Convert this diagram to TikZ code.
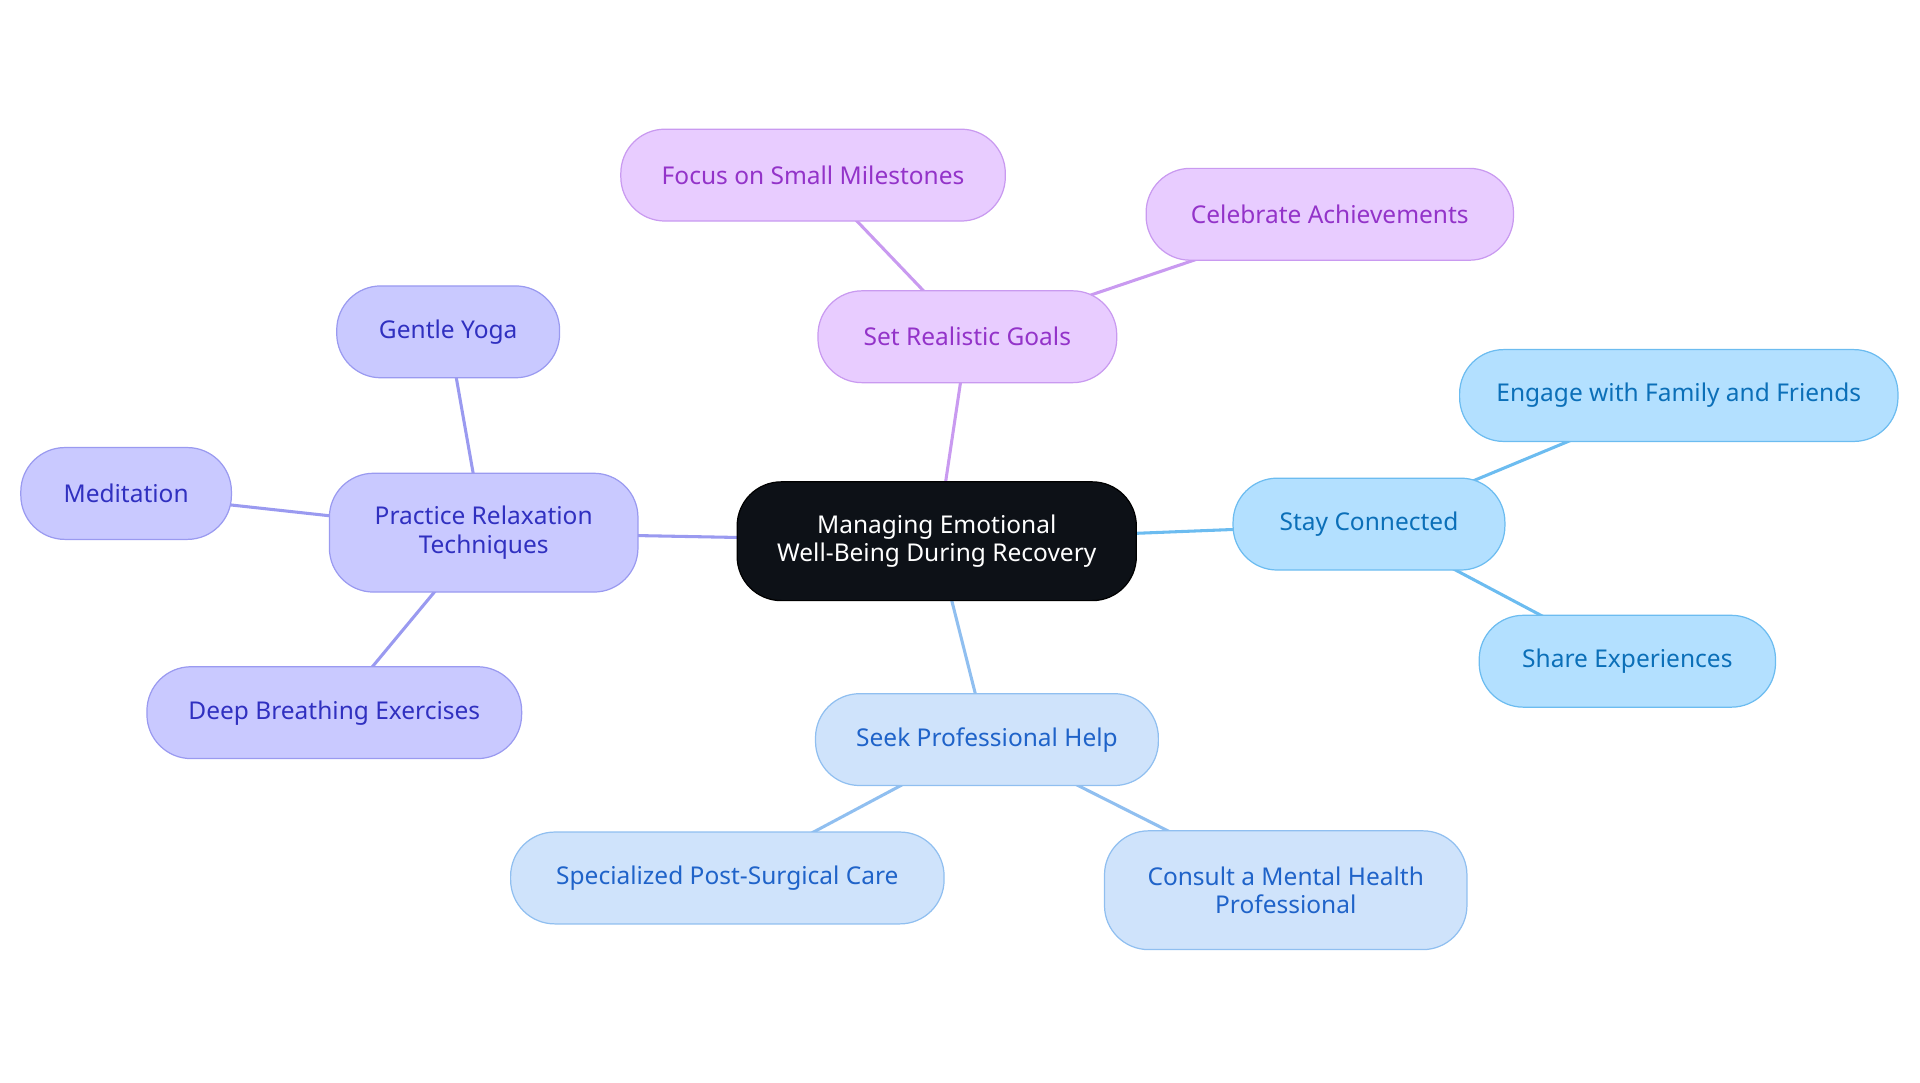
\documentclass[tikz,border=0pt]{standalone}
\usepackage{fontspec}
\setmainfont{Noto Sans}
\usetikzlibrary{backgrounds}
\definecolor{pF}{HTML}{E8CCFF}\definecolor{pD}{HTML}{C99AF0}\definecolor{pT}{HTML}{9333C9}
\definecolor{sF}{HTML}{B3E0FF}\definecolor{sD}{HTML}{6CBCF0}\definecolor{sT}{HTML}{0B6FB8}
\definecolor{bF}{HTML}{CFE3FB}\definecolor{bD}{HTML}{90BFF0}\definecolor{bT}{HTML}{1F63C9}
\definecolor{iF}{HTML}{C9C9FF}\definecolor{iD}{HTML}{9A9AF0}\definecolor{iT}{HTML}{3030C0}
\definecolor{rF}{HTML}{0D1117}
\begin{document}
\begin{tikzpicture}[x=1pt,y=-1pt,
 base/.style={rounded corners=36pt,draw,line width=1pt,align=center,inner sep=0pt,font=\fontsize{20}{23}\selectfont},
 root/.style={base,fill=rF,draw=black,text=white},
 pur/.style={base,fill=pF,draw=pD,text=pT},
 sky/.style={base,fill=sF,draw=sD,text=sT},
 blu/.style={base,fill=bF,draw=bD,text=bT},
 ind/.style={base,fill=iF,draw=iD,text=iT},
 e/.style={line width=2.5pt}]
\useasboundingbox (0,0) rectangle (1568,884);
\def\nd#1#2#3#4#5#6#7{\node[#2,minimum width=#5pt,minimum height=#6pt] (#1) at (#3,#4) {#7};}
\nd{c}{root}{765}{442}{326}{97}{Managing Emotional\\Well-Being During Recovery}
\nd{g}{pur}{790}{275}{244}{75}{Set Realistic Goals}
\nd{g1}{pur}{664}{143}{314}{75}{Focus on Small Milestones}
\nd{g2}{pur}{1086}{175}{300}{75}{Celebrate Achievements}
\nd{s}{sky}{1118}{428}{222}{75}{Stay Connected}
\nd{s1}{sky}{1371}{323}{358}{75}{Engage with Family and Friends}
\nd{s2}{sky}{1329}{540}{242}{75}{Share Experiences}
\nd{p}{blu}{806}{604}{280}{75}{Seek Professional Help}
\nd{p1}{blu}{594}{717}{354}{75}{Specialized Post-Surgical Care}
\nd{p2}{blu}{1050}{727}{296}{97}{Consult a Mental Health\\Professional}
\nd{r}{ind}{395}{435}{252}{97}{Practice Relaxation\\Techniques}
\nd{r1}{ind}{366}{271}{182}{75}{Gentle Yoga}
\nd{r2}{ind}{103}{403}{172}{75}{Meditation}
\nd{r3}{ind}{273}{582}{306}{75}{Deep Breathing Exercises}
\begin{scope}[on background layer]
\draw[e,pD] (c.center)--(g.center) (g.center)--(g1.center) (g.center)--(g2.center);
\draw[e,sD] (c.center)--(s.center) (s.center)--(s1.center) (s.center)--(s2.center);
\draw[e,bD] (c.center)--(p.center) (p.center)--(p1.center) (p.center)--(p2.center);
\draw[e,iD] (c.center)--(r.center) (r.center)--(r1.center) (r.center)--(r2.center) (r.center)--(r3.center);
\end{scope}
\end{tikzpicture}
\end{document}
